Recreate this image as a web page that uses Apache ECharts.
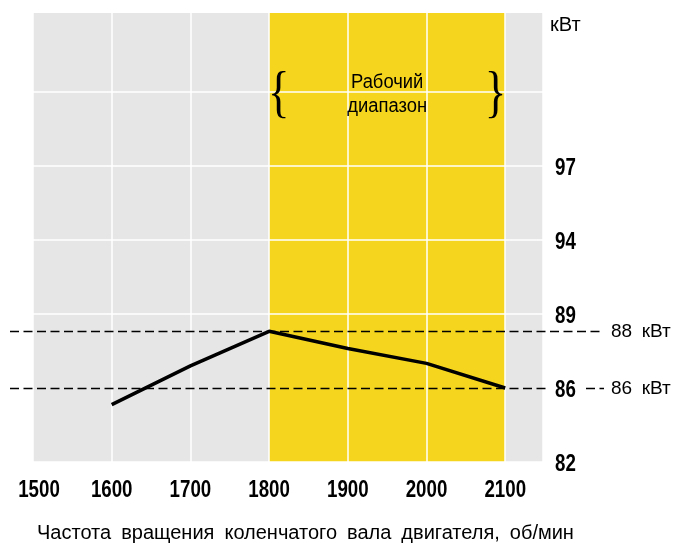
<!DOCTYPE html>
<html><head><meta charset="utf-8">
<script src="https://cdn.jsdelivr.net/npm/echarts@6/dist/echarts.min.js"></script>
<style>html,body{margin:0;padding:0;background:#fff}#c{width:673px;height:543px}</style>
</head><body><div id="c"></div>
<script>
// ---- data ----
const rpm = [1600, 1700, 1800, 1900, 2000, 2100];
const powerKW = [85.1, 86.9, 88.3, 87.6, 87.0, 86.0];
const xTicks = [1500, 1600, 1700, 1800, 1900, 2000, 2100];
const yTickValues = [82, 86, 89, 94, 97];          // equally spaced levels
const yTickLabels = ['82', '86', '89', '94', '97'];
const workRange = [1800, 2100];
const workLines = ['Рабочий', 'диапазон'];
const unitLabel = 'кВт';
const xTitle = 'Частота\u2002вращения\u2002коленчатого\u2002вала\u2002двигателя,\u2002об/мин';
const refLabels = ['88\u2002кВт', '86\u2002кВт'];
const refValues = [Math.max(...powerKW), powerKW[powerKW.length - 1]];

// ---- styling ----
const GREY = '#e6e6e6', YELLOW = '#f5d51e';
const BOLD = "bold 24px 'Liberation Sans',Arial,sans-serif";
const REG = "'Liberation Sans',Arial,sans-serif";
const NARROW = 0.78;

function toLevel(v) {
  const t = yTickValues;
  if (v <= t[0]) return 0;
  for (let i = 0; i < t.length - 1; i++) {
    if (v <= t[i + 1]) return i + (v - t[i]) / (t[i + 1] - t[i]);
  }
  return t.length - 1;
}

const areaColors = xTicks.map(t => (t >= workRange[0] && t < workRange[1]) ? YELLOW : GREY);
const CLEAR = 'rgba(0,0,0,0)';
const ySplitColors = ['#fff', CLEAR, '#fff', '#fff', '#fff', '#fff', CLEAR, CLEAR];

const chart = echarts.init(document.getElementById('c'), null, {renderer: 'canvas'});
chart.setOption({
  animation: false,
  grid: {left: 33, right: 130, top: 13, bottom: 81, show: true, backgroundColor: GREY, borderWidth: 0},
  xAxis: {
    type: 'value', min: 1500, max: 2148, interval: 100, z: 0,
    axisLine: {show: false}, axisTick: {show: false}, axisLabel: {show: false},
    splitLine: {show: true, lineStyle: {color: '#fff', width: 1.5}},
    splitArea: {show: true, areaStyle: {color: areaColors}}
  },
  yAxis: {
    type: 'value', position: 'right', min: 0, max: 6.07, interval: 1, z: 1,
    axisLine: {show: false}, axisTick: {show: false}, axisLabel: {show: false},
    splitLine: {show: true, lineStyle: {color: ySplitColors, width: 1.5}}
  },
  series: [{
    type: 'line', symbol: 'none', z: 5,
    data: rpm.map((r, i) => [r, toLevel(powerKW[i])]),
    lineStyle: {color: '#000', width: 3.5}
  }]
});

const px = (x, y) => chart.convertToPixel({gridIndex: 0}, [x, y]);
const g = [];
// tick labels (condensed bold)
const bottomY = px(1500, 0)[1];
xTicks.forEach(t => g.push({type: 'text', x: px(t, 0)[0] + (t === 1500 ? 6 : 0), y: bottomY + 28, scaleX: NARROW,
  style: {text: String(t), font: BOLD, fill: '#000', textAlign: 'center', textVerticalAlign: 'middle'}}));
const rightX = px(2148, 0)[0];
yTickValues.forEach((v, i) => g.push({type: 'text', x: rightX + 12, y: px(1500, i)[1] + 2, scaleX: NARROW,
  style: {text: yTickLabels[i], font: BOLD, fill: '#000', textAlign: 'left', textVerticalAlign: 'middle'}}));
// reference dashed lines
refValues.forEach((v, i) => {
  const y = Math.round(px(1500, toLevel(v))[1]) + 0.5;
  const segs = i === 1 ? [[10, 548], [586, 604]] : [[10, 604]];
  segs.forEach(s => g.push({
    type: 'line', z: 10,
    shape: {x1: s[0], y1: y, x2: s[1], y2: y},
    style: {stroke: '#000', lineWidth: 1.6, lineDash: [9, 4.5]}
  }));
  g.push({type: 'text', z: 10, x: 611, y: y,
    style: {text: refLabels[i], font: '19px ' + REG, fill: '#000', textVerticalAlign: 'middle'}});
});
g.push({type: 'text', x: 550, y: 25,
  style: {text: unitLabel, font: '20px ' + REG, fill: '#000', textVerticalAlign: 'middle'}});
const midX = px((workRange[0] + workRange[1]) / 2, 5)[0];
const lvl5 = px(1500, 5)[1];
g.push({type: 'text', z: 10, x: midX, y: lvl5 - 10, scaleX: 0.92,
  style: {text: workLines[0], font: '20px ' + REG, fill: '#000', textAlign: 'center', textVerticalAlign: 'middle'}});
g.push({type: 'text', z: 10, x: midX, y: lvl5 + 14, scaleX: 0.92,
  style: {text: workLines[1], font: '20px ' + REG, fill: '#000', textAlign: 'center', textVerticalAlign: 'middle'}});
g.push({type: 'text', z: 10, x: px(workRange[0], 5)[0] - 1, y: lvl5 + 4, scaleX: 0.8,
  style: {text: '{', font: '56px \'Liberation Serif\',serif', fill: '#000', textAlign: 'left', textVerticalAlign: 'middle'}});
g.push({type: 'text', z: 10, x: px(workRange[1], 5)[0] + 1, y: lvl5 + 4, scaleX: 0.8,
  style: {text: '}', font: '56px \'Liberation Serif\',serif', fill: '#000', textAlign: 'right', textVerticalAlign: 'middle'}});
g.push({type: 'text', x: 37, y: 533,
  style: {text: xTitle, font: '20px ' + REG, fill: '#000', textVerticalAlign: 'middle'}});
chart.setOption({graphic: g});
</script></body></html>
